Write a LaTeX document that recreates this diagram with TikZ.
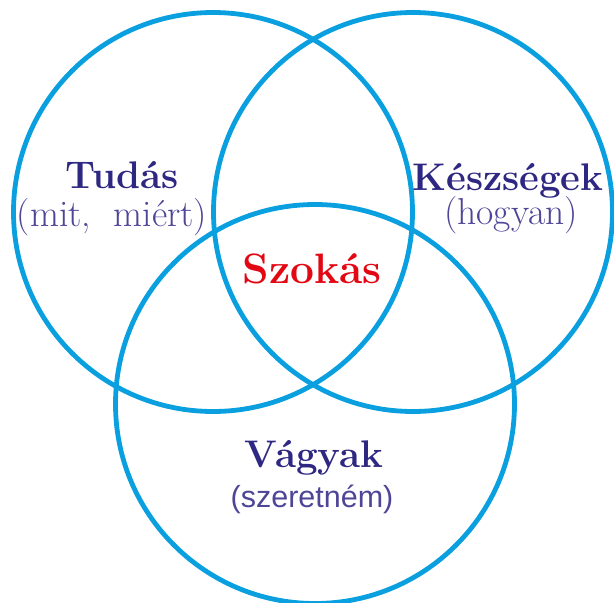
\documentclass[tikz,border=0pt]{standalone}
\usepackage{fontspec}
\newfontfamily\arialfont{Liberation Sans}
\definecolor{ringblue}{HTML}{0AA0E0}
\definecolor{titleblue}{HTML}{2E2882}
\definecolor{subpurple}{HTML}{4E4596}
\definecolor{habitred}{HTML}{E30613}

\begin{document}
\begin{tikzpicture}[
  x=1pt, y=-1pt,
  ring/.style={draw=ringblue, line width=4.8pt},
  title/.style={anchor=base, inner sep=0pt, text=titleblue, font=\bfseries\fontsize{38.5}{42}\selectfont},
  sub/.style={anchor=base, inner sep=0pt, text=subpurple, font=\fontsize{37.5}{42}\selectfont}
]
\useasboundingbox (0,0) rectangle (614,603);

% the three sets
\draw[ring] (213,212) circle[radius=199.5pt];
\draw[ring] (413,212) circle[radius=199.5pt];
\draw[ring] (315,404) circle[radius=199.5pt];

\node[title] (tudas) at (122,188) {Tudás};
\node[sub] (tudassub) at (112,226) {(mit,\ \ miért)};

\node[title] (keszseg) at (508,190) {Készségek};
\node[sub] (keszsegsub) at (511,224) {(hogyan)};

\node[title, text=habitred, font=\bfseries\fontsize{42.5}{46}\selectfont] (szokas) at (312,283) {Szokás};

\node[title] (vagyak) at (314,467) {Vágyak};
\node[sub, font=\arialfont\fontsize{30.5}{34}\selectfont] (vagyaksub) at (312,507) {(szeretném)};
\end{tikzpicture}
\end{document}
